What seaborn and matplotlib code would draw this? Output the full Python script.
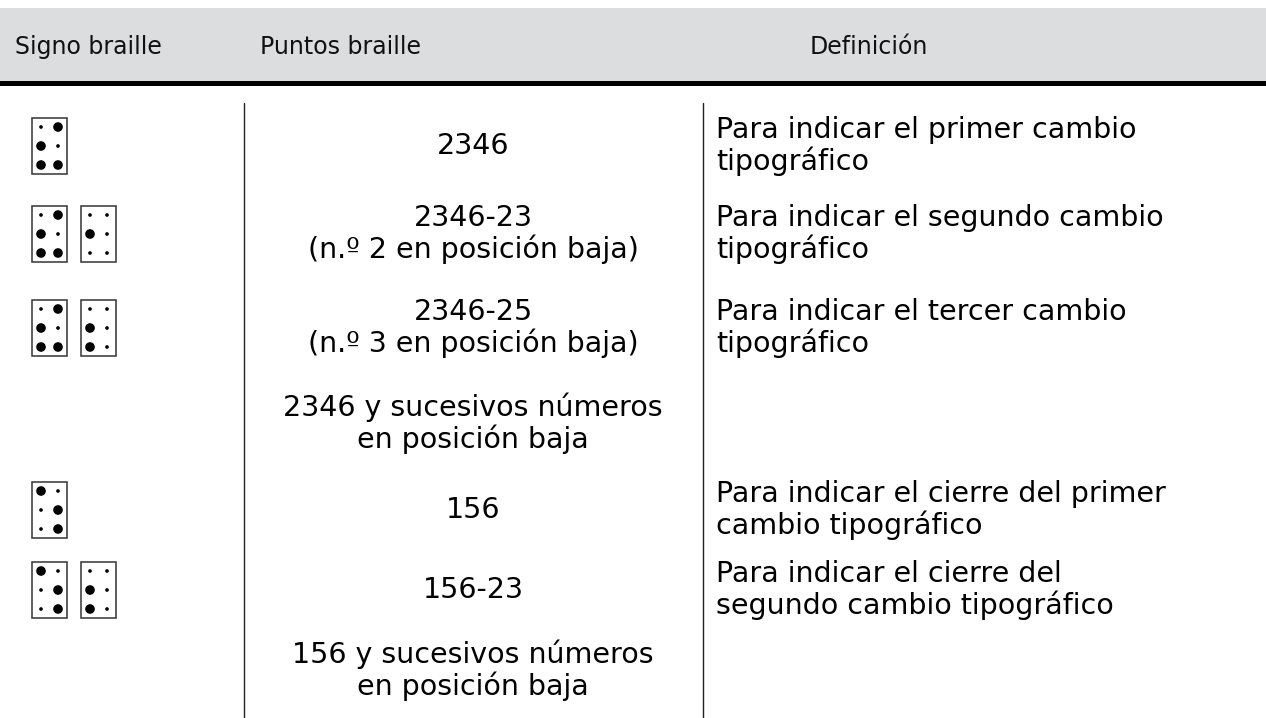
import matplotlib
matplotlib.use("Agg")
import matplotlib.pyplot as plt
from matplotlib.patches import Rectangle
import seaborn as sns
import pandas as pd

# ---- data ----
header_labels = ["Signo braille", "Puntos braille", "Definición"]
# raised dots for each braille cell shown in the first column, per row
signos = [["2346"], ["2346", "2"], ["2346", "23"], [], ["156"], ["156", "23"], []]
puntos = [
    "2346",
    "2346-23\n(n.º 2 en posición baja)",
    "2346-25\n(n.º 3 en posición baja)",
    "2346 y sucesivos números\nen posición baja",
    "156",
    "156-23",
    "156 y sucesivos números\nen posición baja",
]
definiciones = [
    "Para indicar el primer cambio\ntipográfico",
    "Para indicar el segundo cambio\ntipográfico",
    "Para indicar el tercer cambio\ntipográfico",
    "",
    "Para indicar el cierre del primer\ncambio tipográfico",
    "Para indicar el cierre del\nsegundo cambio tipográfico",
    "",
]

# ---- layout (pixels) ----
W, H = 1266, 718
row_y = [146, 234, 328, 423, 510, 590, 670]
col1_box_x = [32, 81]
box_w, box_h = 35, 56
dot_dx = [9, 26]
dot_dy = [9, 28, 47]

sns.set_theme(style="white")
plt.rcParams["font.family"] = ["DejaVu Sans"]

fig = plt.figure(figsize=(W / 100, H / 100), dpi=100)
ax = fig.add_axes([0, 0, 1, 1])

# header band
ax.add_patch(Rectangle((0, 8), W, 73, facecolor="#dcdddf", edgecolor="none", zorder=0))
ax.add_patch(Rectangle((0, 81), W, 4.5, facecolor="black", edgecolor="none", zorder=1))
hdr_x = [15, 260, 810]
for lab, x in zip(header_labels, hdr_x):
    ax.text(x, 47, lab, fontsize=17, color="#111111", ha="left", va="center")

# vertical separators
for x in [244, 703]:
    ax.plot([x, x], [103, H], color="#222222", lw=1.0)

# braille dots
recs = []
for r, cells in enumerate(signos):
    for c, raised in enumerate(cells):
        bx = col1_box_x[c]
        by = row_y[r] - box_h / 2
        ax.add_patch(Rectangle((bx, by), box_w, box_h, facecolor="none",
                               edgecolor="#333333", lw=1.1, zorder=2))
        for d in range(6):
            num = str(d + 1)
            colx = 0 if d < 3 else 1
            rowk = d % 3
            recs.append({"x": bx + dot_dx[colx], "y": by + dot_dy[rowk],
                         "tipo": "alto" if num in raised else "bajo"})
df = pd.DataFrame(recs)
sns.scatterplot(data=df, x="x", y="y", size="tipo",
                sizes={"alto": 48, "bajo": 7}, color="black",
                edgecolor="none", legend=False, ax=ax, zorder=3)
ax.set_xlim(0, W)
ax.set_ylim(H, 0)
ax.axis("off")

# text columns
for y, t in zip(row_y, puntos):
    ax.text(473, y, t, fontsize=20.5, color="black", ha="center", va="center",
            multialignment="center", linespacing=1.1)
for y, t in zip(row_y, definiciones):
    if t:
        ax.text(716, y, t, fontsize=20.5, color="black", ha="left", va="center",
                linespacing=1.1)

fig.savefig("out.png", dpi=100)
